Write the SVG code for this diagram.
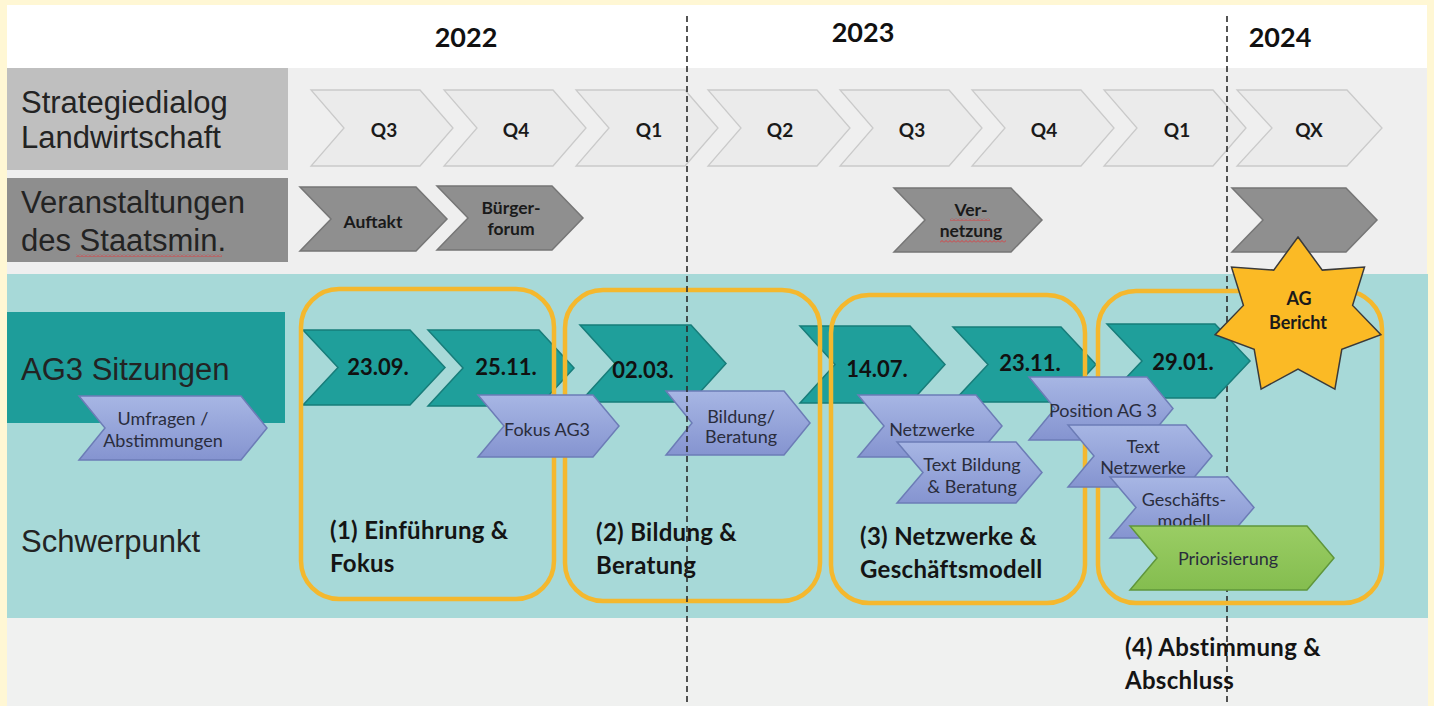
<svg xmlns="http://www.w3.org/2000/svg" width="1434" height="706" viewBox="0 0 1434 706">
<defs>
<style>
.lbl{font-family:"Liberation Sans",Arial,sans-serif;font-size:31px;fill:#232323}
.yr{font-family:Lato,"Open Sans",sans-serif;font-weight:700;font-size:27px;fill:#111;text-anchor:middle}
.q{fill:#ebebeb;stroke:#cacaca;stroke-width:1.3}
.qt{font-family:Lato,"Open Sans",sans-serif;font-weight:700;font-size:19px;fill:#1a1a1a;text-anchor:middle}
.g{fill:#8f8f8f;stroke:#767676;stroke-width:1.5}
.gt{font-family:Lato,"Open Sans",sans-serif;font-weight:700;font-size:17.5px;fill:#1a1a1a;text-anchor:middle}
.st{font-family:Lato,"Open Sans",sans-serif;font-weight:700;font-size:18px;fill:#1a1a1a;text-anchor:middle}
.t{fill:#1f9f9b;stroke:#177d7a;stroke-width:1.5}
.tt{font-family:Lato,"Open Sans",sans-serif;font-weight:700;font-size:22px;fill:#111;text-anchor:middle}
.b{fill:url(#blue);stroke:#6c7cb6;stroke-width:1.5}
.bt{font-family:Lato,"Open Sans",sans-serif;font-size:18px;fill:#2a2d3d;text-anchor:middle}
.gr{fill:url(#green);stroke:#5f963b;stroke-width:1.5}
.box{fill:none;stroke:#f4b82e;stroke-width:4.5}
.ph{font-family:Lato,"Open Sans",sans-serif;font-weight:700;font-size:24px;fill:#141414;letter-spacing:0.3px}
.dash{stroke:#2b2b2b;stroke-width:1.6;stroke-dasharray:6 4;fill:none}
</style>
<linearGradient id="blue" x1="0" y1="0" x2="0" y2="1">
<stop offset="0" stop-color="#a7b6e4"/>
<stop offset="1" stop-color="#8594d0"/>
</linearGradient>
<linearGradient id="green" x1="0" y1="0" x2="0" y2="1">
<stop offset="0" stop-color="#9acd64"/>
<stop offset="1" stop-color="#84bd4f"/>
</linearGradient>
<pattern id="wavy" width="4" height="3" patternUnits="userSpaceOnUse">
<path d="M0,2.5 L2,0.5 L4,2.5" fill="none" stroke="#e0393b" stroke-width="0.9"/>
</pattern>
</defs>

<g id="background">
<rect x="0" y="0" width="1434" height="706" fill="#fff7d4"/>
<rect x="7" y="5" width="1420" height="63" fill="#ffffff"/>
<rect x="7" y="68" width="1420" height="206" fill="#efefef"/>
<rect x="7" y="274" width="1421" height="344" fill="#a7d9d8"/>
<rect x="7" y="618" width="1421" height="88" fill="#f0f1f0"/>
</g>

<g id="years">
<text class="yr" x="466" y="47">2022</text>
<text class="yr" x="863" y="42">2023</text>
<text class="yr" x="1280" y="47">2024</text>
</g>

<g id="label-strategiedialog">
<rect x="7" y="68" width="281" height="102" fill="#bfbfbf"/>
<text class="lbl" x="21" y="113">Strategiedialog</text>
<text class="lbl" x="21" y="148">Landwirtschaft</text>
</g>
<g id="label-veranstaltungen">
<rect x="7" y="178" width="281" height="84" fill="#8e8e8e"/>
<text class="lbl" x="21" y="213">Veranstaltungen</text>
<text class="lbl" x="21" y="251">des Staatsmin.</text>
<rect x="76" y="254" width="146" height="3" fill="url(#wavy)"/>
</g>
<g id="label-ag3">
<rect x="7" y="312" width="278" height="111" fill="#1e9d9a"/>
<text class="lbl" x="21" y="380">AG3 Sitzungen</text>
</g>
<g id="label-schwerpunkt">
<text class="lbl" x="21" y="552">Schwerpunkt</text>
</g>

<g id="q-2022-q3"><path class="q" d="M311,90 H420 L453,128 L420,166 H311 L344,128 Z"/><text class="qt" x="384" y="137">Q3</text></g>
<g id="q-2022-q4"><path class="q" d="M444,90 H553 L586,128 L553,166 H444 L477,128 Z"/><text class="qt" x="516" y="137">Q4</text></g>
<g id="q-2023-q1"><path class="q" d="M576,90 H685 L718,128 L685,166 H576 L609,128 Z"/><text class="qt" x="649" y="137">Q1</text></g>
<g id="q-2023-q2"><path class="q" d="M708,90 H817 L850,128 L817,166 H708 L741,128 Z"/><text class="qt" x="780" y="137">Q2</text></g>
<g id="q-2023-q3"><path class="q" d="M840,90 H949 L982,128 L949,166 H840 L873,128 Z"/><text class="qt" x="912" y="137">Q3</text></g>
<g id="q-2023-q4"><path class="q" d="M972,90 H1081 L1114,128 L1081,166 H972 L1005,128 Z"/><text class="qt" x="1044" y="137">Q4</text></g>
<g id="q-2024-q1"><path class="q" d="M1104,90 H1213 L1246,128 L1213,166 H1104 L1137,128 Z"/><text class="qt" x="1177" y="137">Q1</text></g>
<g id="q-2024-qx"><path class="q" d="M1237,90 H1347 L1382,128 L1347,166 H1237 L1272,128 Z"/><text class="qt" x="1309" y="137">QX</text></g>

<g id="ev-auftakt"><path class="g" d="M300,187 H416 L447,219 L416,251 H300 L331,219 Z"/><text class="gt" x="373" y="228">Auftakt</text></g>
<g id="ev-buergerforum"><path class="g" d="M437,186 H552 L583,218 L552,250 H437 L468,218 Z"/><text class="gt" x="511" y="214">Bürger-</text><text class="gt" x="511" y="235">forum</text></g>
<g id="ev-vernetzung"><path class="g" d="M894,188 H1011 L1042,220 L1011,252 H894 L925,220 Z"/><text class="gt" x="971" y="216">Ver-</text><text class="gt" x="971" y="237">netzung</text>
<rect x="950" y="218" width="40" height="3" fill="url(#wavy)"/><rect x="940" y="240" width="66" height="3" fill="url(#wavy)"/></g>
<g id="ev-2024"><path class="g" d="M1232,188 H1346 L1377,220 L1346,252 H1232 L1263,220 Z"/></g>

<g id="divider-2024">
<line class="dash" x1="1227" y1="16" x2="1227" y2="706"/>
</g>

<g id="s-2309"><path class="t" d="M303,330 H410 L445,367.5 L410,405 H303 L338,367.5 Z"/><text class="tt" x="378" y="375">23.09.</text></g>
<g id="s-2511"><path class="t" d="M428,330 H539 L574,368 L539,406 H428 L463,368 Z"/><text class="tt" x="506" y="375">25.11.</text></g>
<g id="s-0203"><path class="t" d="M580,325 H691 L726,363.5 L691,402 H580 L615,363.5 Z"/><text class="tt" x="643" y="378">02.03.</text></g>
<g id="s-1407"><path class="t" d="M800,326 H910 L945,364.5 L910,403 H800 L835,364.5 Z"/><text class="tt" x="877" y="377">14.07.</text></g>
<g id="s-2311"><path class="t" d="M953,327 H1061 L1096,364.5 L1061,402 H953 L988,364.5 Z"/><text class="tt" x="1030" y="371">23.11.</text></g>
<g id="s-2901"><path class="t" d="M1107,324 H1215 L1250,361 L1215,398 H1107 L1142,361 Z"/><text class="tt" x="1183" y="370">29.01.</text></g>

<g id="phase-1"><rect class="box" x="301" y="289" width="253" height="310" rx="38"/><text class="ph" x="330" y="539">(1) Einführung &amp;</text><text class="ph" x="330" y="572">Fokus</text></g>
<g id="phase-2"><rect class="box" x="565" y="290" width="255" height="311" rx="38"/><text class="ph" x="596" y="541">(2) Bildung &amp;</text><text class="ph" x="596" y="574">Beratung</text></g>
<g id="phase-3"><rect class="box" x="831" y="295" width="254" height="308" rx="38"/><text class="ph" x="860" y="545">(3) Netzwerke &amp;</text><text class="ph" x="860" y="578">Geschäftsmodell</text></g>
<g id="phase-4"><rect class="box" x="1098" y="291" width="284" height="312" rx="38"/><text class="ph" x="1125" y="656">(4) Abstimmung &amp;</text><text class="ph" x="1125" y="689">Abschluss</text></g>

<g id="t-umfragen"><path class="b" d="M79,396 H241 L267,428 L241,460 H79 L105,428 Z"/><text class="bt" x="163" y="425">Umfragen /</text><text class="bt" x="163" y="447">Abstimmungen</text></g>
<g id="t-fokus"><path class="b" d="M478,395 H593 L619,426 L593,457 H478 L504,426 Z"/><text class="bt" x="547" y="436">Fokus AG3</text></g>
<g id="t-bildung"><path class="b" d="M666,391 H784 L810,423 L784,455 H666 L692,423 Z"/><text class="bt" x="741" y="423">Bildung/</text><text class="bt" x="741" y="443">Beratung</text></g>
<g id="t-netzwerke"><path class="b" d="M858,395 H976 L1002,426 L976,457 H858 L884,426 Z"/><text class="bt" x="932" y="436">Netzwerke</text></g>
<g id="t-textbildung"><path class="b" d="M897,442 H1016 L1042,472.5 L1016,503 H897 L923,472.5 Z"/><text class="bt" x="972" y="471">Text Bildung</text><text class="bt" x="972" y="493">&amp; Beratung</text></g>
<g id="t-position"><path class="b" d="M1029,377 H1147 L1173,408.5 L1147,440 H1029 L1055,408.5 Z"/><text class="bt" x="1103" y="417">Position AG 3</text></g>
<g id="t-textnetzwerke"><path class="b" d="M1068,425 H1186 L1212,456 L1186,487 H1068 L1094,456 Z"/><text class="bt" x="1143" y="453">Text</text><text class="bt" x="1143" y="474">Netzwerke</text></g>
<g id="t-geschaeftsmodell"><path class="b" d="M1110,477 H1228 L1254,507.5 L1228,538 H1110 L1136,507.5 Z"/><text class="bt" x="1184" y="506">Geschäfts-</text><text class="bt" x="1184" y="527">modell</text></g>
<g id="t-priorisierung"><path class="gr" d="M1130,526 H1307 L1334,558 L1307,590 H1130 L1157,558 Z"/><text class="bt" x="1228" y="565">Priorisierung</text></g>

<g id="ag-bericht">
<path d="M1298,237 L1322.3,270.1 L1364.5,267.1 L1352.6,305.4 L1380.9,334.8 L1341.8,349.4 L1334.9,389.1 L1298,369 L1261.1,389.1 L1254.2,349.4 L1215.1,334.8 L1243.4,305.4 L1231.5,267.1 L1273.7,270.1 Z" fill="#fbba25" stroke="#3a3a3a" stroke-width="1.5"/>
<text class="st" x="1299" y="305">AG</text>
<text class="st" x="1298" y="329">Bericht</text>
</g>

<g id="divider-2023">
<line class="dash" x1="687" y1="16" x2="687" y2="706"/>
</g>
</svg>
